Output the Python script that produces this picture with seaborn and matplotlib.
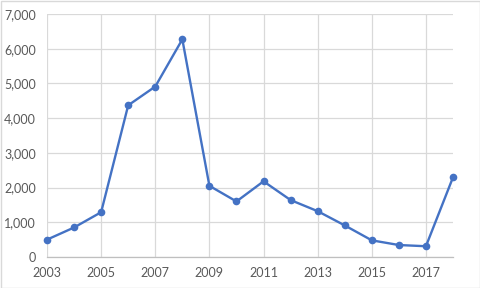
import matplotlib
matplotlib.use("Agg")
import matplotlib.pyplot as plt
import seaborn as sns
import pandas as pd
from matplotlib.patches import Rectangle
from matplotlib.ticker import FuncFormatter

years = list(range(2003, 2019))
values = [500, 850, 1290, 4370, 4910, 6270, 2050, 1600, 2180, 1640, 1320, 910, 480, 345, 310, 2295]
x_ticks = list(range(2003, 2018, 2))
y_ticks = [0, 1000, 2000, 3000, 4000, 5000, 6000, 7000]

sns.set_theme(style="white")
plt.rcParams['font.family'] = ['Lato', 'DejaVu Sans']

df = pd.DataFrame({"year": years, "value": values})

fig = plt.figure(figsize=(4.8, 2.88), dpi=100)
ax = fig.add_axes([47/480, 1 - 257/288, (453 - 47)/480, (257 - 14)/288])

sns.lineplot(data=df, x="year", y="value", ax=ax, color="#4472C4",
             marker="o", markersize=5.5, markeredgewidth=0, linewidth=1.7, zorder=3)
for ln in ax.lines:
    ln.set_clip_on(False)

ax.set_xlim(2003, 2018)
ax.set_ylim(0, 7000)
ax.set_xticks(x_ticks)
ax.set_yticks(y_ticks)
ax.yaxis.set_major_formatter(FuncFormatter(lambda v, p: f"{int(v):,}"))
ax.grid(True, color="#D9D9D9", linewidth=0.9, zorder=0)
ax.set_xlabel("")
ax.set_ylabel("")
for s in ["top", "right", "left"]:
    ax.spines[s].set_visible(False)
ax.spines["bottom"].set_color("#BFBFBF")
ax.spines["bottom"].set_linewidth(0.9)
ax.tick_params(axis="both", length=0, labelsize=9, labelcolor="#595959")
ax.tick_params(axis="y", pad=8)
ax.tick_params(axis="x", pad=7)

fig.patches.append(Rectangle((0.5/480, 0.5/288), 1 - 1/480, 1 - 1/288, transform=fig.transFigure,
                             fill=False, edgecolor="#D9D9D9", linewidth=1))

fig.savefig("out.png", dpi=100)
